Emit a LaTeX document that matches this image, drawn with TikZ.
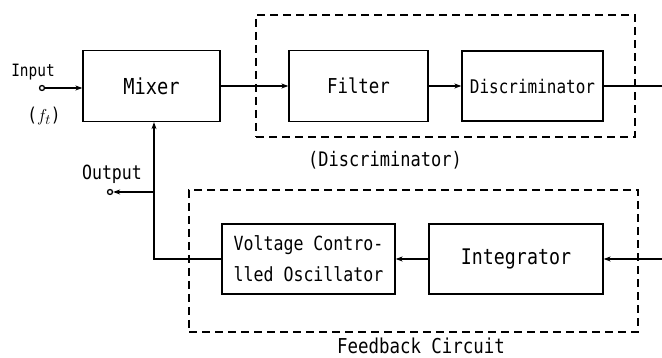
\documentclass[tikz,border=0pt]{standalone}
\usepackage{fontspec}
\setmainfont[FakeStretch=0.85]{DejaVu Sans Mono}
\usetikzlibrary{arrows.meta}
\newcommand{\fsz}[1]{\fontsize{#1}{#1}\selectfont}
\begin{document}
\begin{tikzpicture}[x=1pt,y=-1pt,
  blk/.style={draw,line width=1.3pt,inner sep=0pt},
  grp/.style={draw,dash pattern=on 8pt off 5pt,line width=1.1pt,inner sep=0pt},
  wire/.style={line width=1.2pt},
  tip/.style={-{Stealth[length=7pt,width=5pt]}},
  term/.style={circle,draw,line width=1.3pt,inner sep=0pt,minimum size=5pt},
  lbl/.style={inner sep=0pt}]
\useasboundingbox (0,0) rectangle (662,358);
% groups
\node[grp,minimum width=379pt,minimum height=122pt] (gdis) at (445.5,76) {};
\node[grp,minimum width=449pt,minimum height=142pt] (gfb) at (413.5,261) {};
% blocks
\node[blk,minimum width=137pt,minimum height=71pt,font=\fsz{22}] (mix) at (151.5,86) {Mixer};
\node[blk,minimum width=139pt,minimum height=71pt,font=\fsz{20.5}] (fil) at (358.5,86) {Filter};
\node[blk,minimum width=141pt,minimum height=70pt,font=\fsz{18.8}] (dis) at (532.5,86) {Discriminator};
\node[blk,minimum width=173pt,minimum height=70pt,font=\fontsize{19.5}{31}\selectfont,align=center] (vco) at (308.5,259) {Voltage Contro-\\lled Oscillator};
\node[blk,minimum width=174pt,minimum height=70pt,font=\fsz{21.5}] (int) at (516,259) {Integrator};
% terminals
\node[term] (inp) at (42,88) {};
\node[term] (out) at (110,192) {};
% labels
\node[lbl,font=\fsz{17}] (linp) at (33,72) {Input};
\node[lbl,font=\fsz{19}] (lft) at (44,116) {($f_t$)};
\node[lbl,font=\fsz{19.5}] (lout) at (112,174) {Output};
\node[lbl,font=\fsz{20}] (ldis) at (385,160) {(Discriminator)};
\node[lbl,font=\fsz{20.5},anchor=base] (lfb) at (421,353) {Feedback Circuit};
% coordinates
\coordinate (dout) at (662,86);
\coordinate (iin) at (662,259);
\coordinate (bend) at (154,259);
\coordinate (br) at (154,192);
% connectors
\draw[wire,tip] (inp.east) -- (inp.east -| mix.west);
\draw[wire,tip] (mix) -- (fil);
\draw[wire,tip] (fil) -- (dis);
\draw[wire] (dis) -- (dout);
\draw[wire,tip] (iin) -- (int);
\draw[wire,tip] (int) -- (vco);
\draw[wire,tip] (vco.west) -- (bend) -- (bend |- mix.south);
\draw[wire,tip] (br) -- (out.east);
\end{tikzpicture}
\end{document}
